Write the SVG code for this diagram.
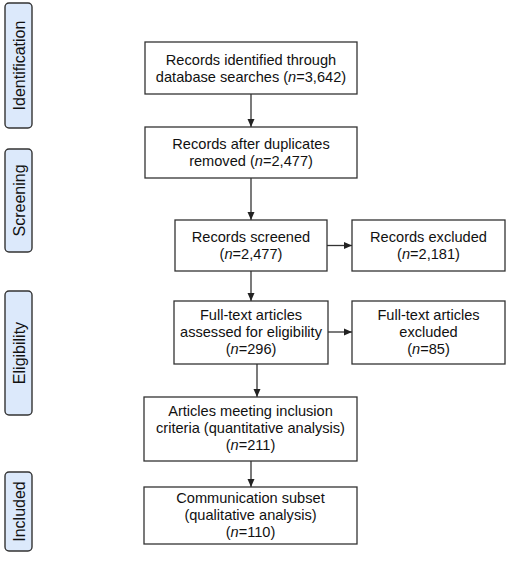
<svg xmlns="http://www.w3.org/2000/svg" width="510" height="562" viewBox="0 0 510 562">
<defs>
<style>
.box{fill:#fff;stroke:#333;stroke-width:1.3}
.stage{fill:#dce9fb;stroke:#333;stroke-width:1.4}
.t{font-family:"Liberation Sans",Arial,sans-serif;font-size:14.6px;fill:#111;text-anchor:middle}
.s{font-family:"Liberation Sans",Arial,sans-serif;font-size:16px;fill:#111;text-anchor:middle}
.c{stroke:#333;stroke-width:1.3;fill:none;marker-end:url(#ah)}
</style>
<marker id="ah" markerWidth="8" markerHeight="8" refX="8" refY="4" orient="auto" markerUnits="userSpaceOnUse">
<path d="M0,0.5 L8,4 L0,7.5 Z" fill="#222"/>
</marker>
</defs>
<rect width="510" height="562" fill="#fff"/>
<g id="stage-identification">
<rect class="stage" x="5" y="3" width="27" height="125" rx="4"/>
<text class="s" transform="translate(24.5,65.5) rotate(-90)">Identification</text>
</g>
<g id="stage-screening">
<rect class="stage" x="5" y="149" width="27" height="103" rx="4"/>
<text class="s" transform="translate(24.5,200.5) rotate(-90)">Screening</text>
</g>
<g id="stage-eligibility">
<rect class="stage" x="5" y="291" width="27" height="124" rx="4"/>
<text class="s" transform="translate(24.5,353) rotate(-90)">Eligibility</text>
</g>
<g id="stage-included">
<rect class="stage" x="5" y="472" width="27" height="79" rx="4"/>
<text class="s" transform="translate(24.5,511.5) rotate(-90)">Included</text>
</g>
<g id="connectors">
<path class="c" d="M251,94 V127"/>
<path class="c" d="M251,178 V220"/>
<path class="c" d="M251,271 V301"/>
<path class="c" d="M257,364 V397"/>
<path class="c" d="M251,461 V487"/>
<path class="c" d="M327,245.5 H352"/>
<path class="c" d="M328,332 H352"/>
</g>
<g id="identified">
<rect class="box" x="145" y="42" width="212" height="52"/>
<text class="t" x="251" y="65">Records identified through</text>
<text class="t" x="251" y="82">database searches (<tspan font-style="italic">n</tspan>=3,642)</text>
</g>
<g id="deduplicated">
<rect class="box" x="145" y="127" width="212" height="51"/>
<text class="t" x="251" y="149">Records after duplicates</text>
<text class="t" x="251" y="166">removed (<tspan font-style="italic">n</tspan>=2,477)</text>
</g>
<g id="screened">
<rect class="box" x="175" y="220" width="152" height="51"/>
<text class="t" x="251" y="242">Records screened</text>
<text class="t" x="251" y="259">(<tspan font-style="italic">n</tspan>=2,477)</text>
</g>
<g id="excluded">
<rect class="box" x="352" y="220" width="153" height="51"/>
<text class="t" x="428.5" y="242">Records excluded</text>
<text class="t" x="428.5" y="259">(<tspan font-style="italic">n</tspan>=2,181)</text>
</g>
<g id="fulltext">
<rect class="box" x="174" y="301" width="154" height="63"/>
<text class="t" x="251" y="320">Full-text articles</text>
<text class="t" x="251" y="337">assessed for eligibility</text>
<text class="t" x="251" y="354">(<tspan font-style="italic">n</tspan>=296)</text>
</g>
<g id="fulltext-excluded">
<rect class="box" x="352" y="301" width="153" height="63"/>
<text class="t" x="428.5" y="320">Full-text articles</text>
<text class="t" x="428.5" y="337">excluded</text>
<text class="t" x="428.5" y="354">(<tspan font-style="italic">n</tspan>=85)</text>
</g>
<g id="included-quant">
<rect class="box" x="144" y="397" width="213" height="64"/>
<text class="t" x="250.5" y="416">Articles meeting inclusion</text>
<text class="t" x="250.5" y="433">criteria (quantitative analysis)</text>
<text class="t" x="250.5" y="450">(<tspan font-style="italic">n</tspan>=211)</text>
</g>
<g id="included-qual">
<rect class="box" x="144" y="487" width="213" height="57"/>
<text class="t" x="250.5" y="503">Communication subset</text>
<text class="t" x="250.5" y="520">(qualitative analysis)</text>
<text class="t" x="250.5" y="537">(<tspan font-style="italic">n</tspan>=110)</text>
</g>
</svg>
